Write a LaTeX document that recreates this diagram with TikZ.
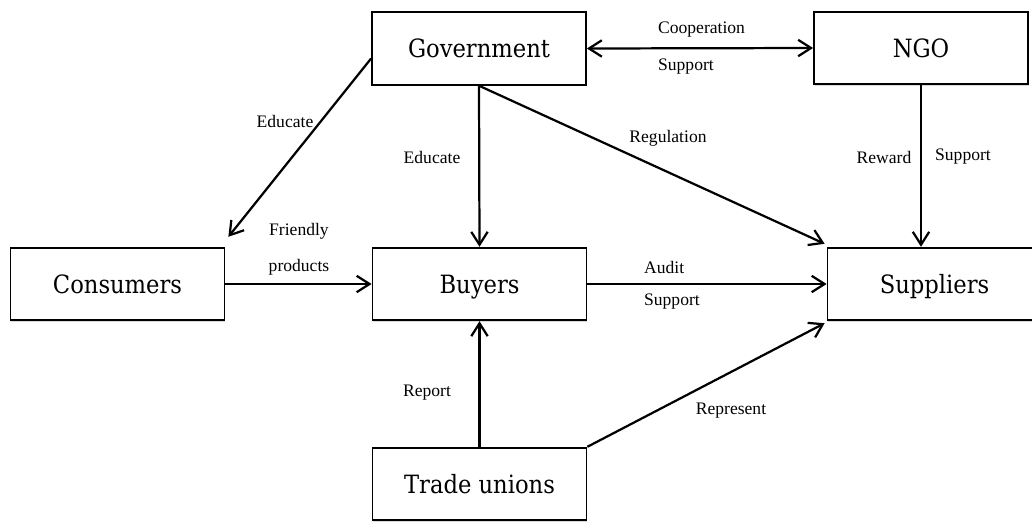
\documentclass[tikz,border=0pt]{standalone}
\usepackage{fontspec}
\setmainfont{Liberation Serif}
\newfontfamily\boxfont{DejaVu Serif Condensed}
\usetikzlibrary{arrows.meta,calc,shadows}
\tikzstyle{every path}+=[line width=1.9pt]
\tikzstyle{actor}=[draw,line width=1.5pt,fill=white,minimum width=6.42cm,minimum height=2.18cm,
  font=\boxfont\fontsize{21.5}{24}\selectfont,text height=15.7pt,text depth=0pt,
  drop shadow={opacity=0.3,shadow xshift=0.8pt,shadow yshift=-1.1pt}]
\tikzstyle{lbl}=[font=\fontsize{15}{17}\selectfont,inner sep=0pt]
\tikzstyle{link}=[-{Straight Barb[length=11pt,width=14pt]}]
\tikzstyle{twoway}=[{Straight Barb[length=11pt,width=14pt]}-{Straight Barb[length=11pt,width=14pt]}]

\begin{document}
\begin{tikzpicture}[x=0.03cm,y=-0.03cm]
\useasboundingbox (0,0) rectangle (1032,521);

\node[actor] (gov)  at (479,48.5) {Government};
\node[actor] (ngo)  at (921,48)   {NGO};
\node[actor] (cons) at (117.5,284) {Consumers};
\node[actor] (buy)  at (479.5,284) {Buyers};
\node[actor] (supp) at (934.5,284) {Suppliers};
\node[actor] (tu)   at (479.5,484) {Trade unions};

\draw[twoway] (gov.east) -- (ngo.west);
\draw[link] ($(gov.west)+(0,10)$) -- ($(cons.north east)+(3,-10)$);
\draw[link] (gov.south) -- (buy.north);
\draw[link] (gov.south) -- ($(supp.north west)+(-2,-3)$);
\draw[link] (ngo.south) -- (ngo.south |- supp.north);
\draw[link] (cons) -- (buy);
\draw[link] (buy) -- (supp);
\draw[link] (tu) -- (buy);
\draw[link] (tu.north east) -- ($(supp.south west)+(-2,2)$);

\node[lbl,anchor=west] (coop)  at (657,30)  {Cooperation};
\node[lbl,anchor=west] (sup1)  at (657,67)  {Support};
\node[lbl] (edu1)  at (285,121) {Educate};
\node[lbl] (edu2)  at (432,157) {Educate};
\node[lbl] (reg)   at (668,138) {Regulation};
\node[lbl] (rew)   at (884,157) {Reward};
\node[lbl] (sup2)  at (963,157) {Support};
\node[lbl] (frnd)  at (299,231) {Friendly};
\node[lbl] (prod)  at (299,267) {products};
\node[lbl,anchor=west] (aud)   at (643,267) {Audit};
\node[lbl,anchor=west] (sup3)  at (643,302) {Support};
\node[lbl] (rep)   at (427,393) {Report};
\node[lbl] (repr)  at (731,411) {Represent};
\end{tikzpicture}
\end{document}
